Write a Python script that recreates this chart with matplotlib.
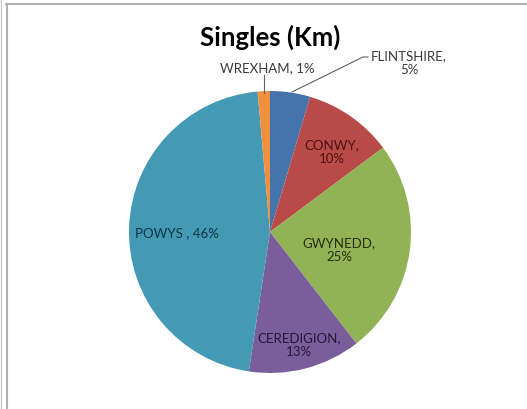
import matplotlib.pyplot as plt
from matplotlib.lines import Line2D

# data (clockwise from 12 o'clock)
counties = ['FLINTSHIRE', 'CONWY', 'GWYNEDD', 'CEREDIGION', 'POWYS', 'WREXHAM']
shares = [4.6, 10.2, 24.7, 12.9, 46.2, 1.4]
label_texts = ['FLINTSHIRE,\n5%', 'CONWY,\n10%', 'GWYNEDD,\n25%',
               'CEREDIGION,\n13%', 'POWYS , 46%', 'WREXHAM, 1%']

colors = ['#4573AC', '#B84A47', '#91B255', '#7A5E9B', '#4499B5', '#F0903F']
text_colors = ['#3a3a3a', '#4e1210', '#24300c', '#241838', '#0f3542', '#3a3a3a']

plt.rcParams['font.family'] = ['Lato', 'DejaVu Sans']

fig = plt.figure(figsize=(5.27, 4.10), dpi=100)
# pie centre ~ (270, 233) px, radius ~141 px
ax = fig.add_axes([(270 - 141) / 527, 1 - (233 + 141) / 410, 282 / 527, 282 / 410])

wedges, _ = ax.pie(shares, colors=colors, startangle=90, counterclock=False,
                   radius=1.0, wedgeprops=dict(linewidth=0))
ax.set_xlim(-1, 1)
ax.set_ylim(-1, 1)
ax.set_aspect('auto')
ax.axis('off')

# label positions in pixel coords of the picture
label_px = [(409, 63), (332, 152), (339, 250), (299, 345), (177, 233), (267, 68)]
for txt, (px, py), c in zip(label_texts, label_px, text_colors):
    fig.text(px / 527, 1 - py / 410, txt, ha='center', va='center',
             fontsize=9.5, color=c, linespacing=1.2)

# leader lines
def fx(px):
    return px / 527

def fy(py):
    return 1 - py / 410

fig.add_artist(Line2D([fx(264), fx(264)], [fy(76), fy(94)], color='#606060', lw=0.8))
fig.add_artist(Line2D([fx(368), fx(363), fx(292)], [fy(58), fy(58), fy(93)],
                      color='#606060', lw=0.8))

fig.text(270 / 527, 1 - 37 / 410, 'Singles (Km)', ha='center', va='center',
         fontsize=18.5, fontweight='bold', color='black')

# chart area frame
fig.add_artist(Line2D([fx(6), fx(527)], [fy(5), fy(5)], color='#b0b0b0', lw=1.5))
fig.add_artist(Line2D([fx(6.5), fx(6.5)], [fy(5), fy(410)], color='#b0b0b0', lw=1.5))
fig.add_artist(Line2D([fx(1), fx(1)], [fy(0), fy(410)], color='#c8c8c8', lw=1.0))

fig.savefig('out.png', dpi=100)
